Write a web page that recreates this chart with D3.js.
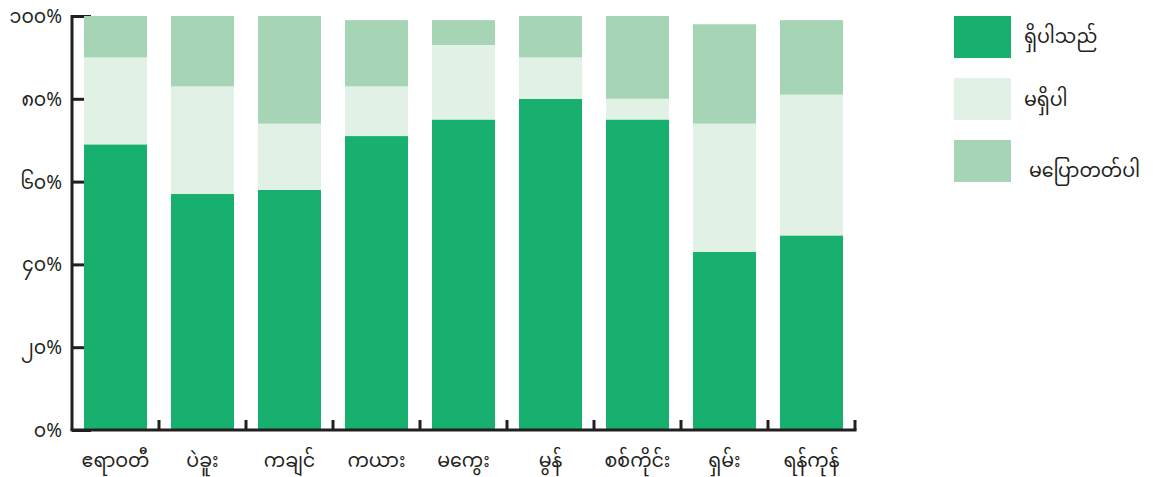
<!DOCTYPE html>
<html>
<head>
<meta charset="utf-8">
<script src="https://cdn.jsdelivr.net/npm/d3@7"></script>
<style>
	body { margin: 0; background: #fff; }
	svg text { font-family: "Noto Sans Myanmar", "Padauk", "Myanmar Text", "Noto Sans", sans-serif; fill: #231f20; }
</style>
</head>
<body>
<svg id="chart" width="1153" height="477"></svg>
<script>
var regions = ["ဧရာဝတီ", "ပဲခူး", "ကချင်", "ကယား", "မကွေး", "မွန်", "စစ်ကိုင်း", "ရှမ်း", "ရန်ကုန်"];
var seriesNames = ["ရှိပါသည်", "မရှိပါ", "မပြောတတ်ပါ"];
var yes = [69, 57, 58, 71, 75, 80, 75, 43, 47];
var no = [21, 26, 16, 12, 18, 10, 5, 31, 34];
var dontKnow = [10, 17, 26, 16, 6, 10, 20, 24, 18];
var yTicks = [0, 20, 40, 60, 80, 100];
var colors = ["#18b06f", "#e1f1e6", "#a5d5b5"];

var burmeseDigits = "၀၁၂၃၄၅၆၇၈၉";
var toBurmese = function(n){
	return String(n).replace(/[0-9]/g, function(c){ return burmeseDigits[+c]; });
};

var svg = d3.select("#chart");
var plotLeft = 72, plotRight = 855, plotTop = 16, plotBottom = 430;

var x = d3.scaleBand()
	.domain(regions)
	.range([plotLeft, plotRight])
	.paddingInner(0.276)
	.paddingOuter(0.138);
var y = d3.scaleLinear().domain([0, 100]).range([plotBottom, plotTop]);

//build stacked rows
var rows = regions.map(function(r, i){
	return { region: r, s0: yes[i], s1: no[i], s2: dontKnow[i] };
});
var stack = d3.stack().keys(["s0", "s1", "s2"])(rows);

//axes first so bars sit on the inward ticks
var yAxis = svg.append("g")
	.attr("transform", "translate(" + plotLeft + ",0)")
	.call(d3.axisRight(y).tickValues(yTicks).tickSize(19).tickFormat(""));
yAxis.select(".domain").attr("d", "M0," + (plotTop - 1) + "V" + plotBottom);
yAxis.selectAll("line, path").attr("stroke", "#231f20").attr("stroke-width", 3);

svg.selectAll(".ylab")
	.data(yTicks)
	.enter().append("text")
	.attr("class", "ylab")
	.attr("x", 62)
	.attr("y", function(d){ return y(d) + 7; })
	.attr("text-anchor", "end")
	.attr("font-size", "19px")
	.text(function(d){ return toBurmese(d) + "%"; });

svg.selectAll(".layer")
	.data(stack)
	.enter().append("g")
	.attr("fill", function(d, i){ return colors[i]; })
	.selectAll("rect")
	.data(function(d){ return d; })
	.enter().append("rect")
	.attr("x", function(d){ return x(d.data.region); })
	.attr("y", function(d){ return y(d[1]); })
	.attr("width", x.bandwidth())
	.attr("height", function(d){ return y(d[0]) - y(d[1]); });

//x axis with ticks between the bands
var bounds = regions.map(function(r){ return x(r) - x.step() * x.paddingInner() / 2; }).slice(1);
bounds.push(plotRight);
svg.append("line")
	.attr("x1", plotLeft - 1.5).attr("x2", plotRight + 1.5)
	.attr("y1", plotBottom).attr("y2", plotBottom)
	.attr("stroke", "#231f20").attr("stroke-width", 3);
svg.selectAll(".xtick")
	.data(bounds)
	.enter().append("line")
	.attr("class", "xtick")
	.attr("x1", function(d){ return d; }).attr("x2", function(d){ return d; })
	.attr("y1", plotBottom).attr("y2", plotBottom - 10)
	.attr("stroke", "#231f20").attr("stroke-width", 3);

svg.selectAll(".xlab")
	.data(regions)
	.enter().append("text")
	.attr("class", "xlab")
	.attr("x", function(d){ return x(d) + x.bandwidth() / 2; })
	.attr("y", 467)
	.attr("text-anchor", "middle")
	.attr("font-size", "19px")
	.text(function(d){ return d; });

//legend, last label sits a bit lower and further right in the original
var legendNudge = [[0, -1], [0, 0], [5, 9]];
var legend = svg.selectAll(".legend")
	.data(seriesNames)
	.enter().append("g")
	.attr("class", "legend")
	.attr("transform", function(d, i){ return "translate(954," + (16 + i * 62) + ")"; });
legend.append("rect")
	.attr("width", 57).attr("height", 42)
	.attr("fill", function(d, i){ return colors[i]; });
legend.append("text")
	.attr("x", function(d, i){ return 70 + legendNudge[i][0]; })
	.attr("y", function(d, i){ return 21 + legendNudge[i][1]; })
	.attr("dy", "0.35em")
	.attr("font-size", "19px")
	.text(function(d){ return d; });
</script>
</body>
</html>
